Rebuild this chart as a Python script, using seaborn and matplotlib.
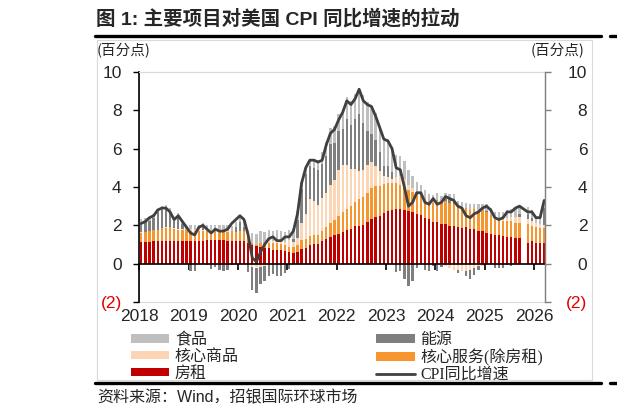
import numpy as np
import pandas as pd
import seaborn as sns
import matplotlib.pyplot as plt
from matplotlib.patches import Patch, Rectangle
from matplotlib.lines import Line2D

nan = np.nan

# monthly, Jan 2018 - Mar 2026 (Oct 2025 missing)
months = pd.date_range('2018-01-01', '2026-03-01', freq='MS')

cpi = [2.1, 2.2, 2.4, 2.5, 2.8, 2.9, 2.9, 2.7, 2.3, 2.5, 2.2, 1.9,
       1.6, 1.5, 1.9, 2.0, 1.8, 1.6, 1.8, 1.7, 1.7, 1.8, 2.1, 2.3,
       2.5, 2.3, 1.5, 0.3, 0.1, 0.6, 1.0, 1.3, 1.4, 1.2, 1.2, 1.4,
       1.4, 1.7, 2.6, 4.2, 5.0, 5.4, 5.4, 5.3, 5.4, 6.2, 6.8, 7.0,
       7.5, 7.9, 8.5, 8.3, 8.6, 9.1, 8.5, 8.3, 8.2, 7.7, 7.1, 6.5,
       6.4, 6.0, 5.0, 4.9, 4.0, 3.0, 3.2, 3.7, 3.7, 3.2, 3.1, 3.4,
       3.1, 3.2, 3.5, 3.4, 3.3, 3.0, 2.9, 2.5, 2.4, 2.6, 2.7, 2.9,
       3.0, 2.8, 2.4, 2.3, 2.4, 2.7, 2.7, 2.9, 3.0, nan, 2.7, 2.7,
       2.4, 2.4, 3.3]

shelter = [1.12, 1.13, 1.15, 1.17, 1.18, 1.19, 1.2, 1.19, 1.17, 1.16, 1.16, 1.16,
           1.18, 1.2, 1.2, 1.2, 1.21, 1.23, 1.23, 1.21, 1.23, 1.19, 1.19, 1.16,
           1.18, 1.18, 1.08, 0.95, 0.9, 0.87, 0.84, 0.8, 0.73, 0.73, 0.7, 0.66,
           0.59, 0.56, 0.63, 0.77, 0.81, 0.95, 1.02, 1.03, 1.16, 1.27, 1.38, 1.49,
           1.55, 1.65, 1.76, 1.8, 1.94, 1.98, 2.01, 2.19, 2.33, 2.44, 2.51, 2.65,
           2.75, 2.82, 2.86, 2.83, 2.8, 2.74, 2.71, 2.58, 2.55, 2.38, 2.31, 2.2,
           2.17, 2.06, 2.06, 1.99, 1.96, 1.89, 1.86, 1.89, 1.79, 1.79, 1.72, 1.68,
           1.61, 1.54, 1.47, 1.47, 1.43, 1.4, 1.37, 1.33, 1.33, nan, 1.1, 1.18,
           1.1, 1.1, 1.1]

core_services = [0.5, 0.5, 0.55, 0.6, 0.6, 0.65, 0.68, 0.7, 0.66, 0.6, 0.6, 0.58,
                 0.55, 0.5, 0.48, 0.5, 0.5, 0.48, 0.5, 0.52, 0.5, 0.48, 0.5, 0.5,
                 0.55, 0.55, 0.4, 0.15, 0.1, 0.2, 0.25, 0.3, 0.35, 0.35, 0.35, 0.3,
                 0.3, 0.3, 0.35, 0.45, 0.5, 0.5, 0.45, 0.45, 0.55, 0.65, 0.75, 0.8,
                 0.95, 1.05, 1.1, 1.2, 1.3, 1.4, 1.45, 1.5, 1.6, 1.6, 1.55, 1.5,
                 1.45, 1.4, 1.35, 1.3, 1.2, 1.1, 1.05, 1.05, 1.05, 1.0, 0.95, 0.95,
                 1.15, 1.15, 1.2, 1.2, 1.15, 1.1, 1.0, 1.0, 1.0, 1.05, 1.05, 1.1,
                 1.1, 1.0, 0.8, 0.8, 0.8, 0.85, 0.85, 0.8, 0.8, nan, 0.95, 0.8,
                 0.8, 0.75, 0.75]

core_goods = [0.05, 0.0, -0.03, -0.02, 0.0, 0.04, 0.05, 0.0, 0.03, 0.04, 0.06, 0.03,
              0.06, 0.04, 0.06, 0.06, 0.05, 0.05, 0.05, 0.06, 0.03, 0.06, 0.02, -0.02,
              -0.02, -0.04, -0.02, -0.15, -0.2, -0.18, -0.14, 0.08, 0.1, 0.12, 0.15, 0.15,
              0.35, 0.26, 0.35, 0.9, 1.3, 1.9, 1.8, 1.6, 1.7, 1.75, 1.95, 2.1,
              2.4, 2.45, 2.3, 1.95, 1.7, 1.45, 1.45, 1.45, 1.35, 1.05, 0.75, 0.42,
              0.3, 0.2, 0.3, 0.42, 0.42, 0.27, 0.17, 0.04, 0.0, -0.02, 0.0, 0.04,
              -0.06, -0.06, -0.13, -0.23, -0.32, -0.34, -0.36, -0.36, -0.32, -0.25, -0.11, -0.1,
              -0.02, -0.02, -0.02, 0.02, 0.06, 0.13, 0.23, 0.29, 0.29, nan, 0.27, 0.27,
              0.22, 0.2, 0.19]

energy = [0.43, 0.6, 0.55, 0.62, 0.91, 0.94, 0.94, 0.8, 0.37, 0.69, 0.24, -0.02,
          -0.36, -0.38, -0.03, 0.13, -0.05, -0.26, -0.15, -0.33, -0.36, -0.32, -0.05, 0.26,
          0.43, 0.2, -0.4, -1.24, -1.32, -0.88, -0.78, -0.63, -0.54, -0.64, -0.66, -0.49,
          -0.26, 0.17, 0.95, 1.8, 2.05, 1.76, 1.71, 1.8, 1.79, 1.95, 2.15, 1.9,
          2.0, 1.9, 2.4, 2.3, 2.6, 3.0, 2.45, 1.8, 1.5, 1.35, 1.0, 0.55,
          0.61, 0.36, -0.45, -0.36, -0.82, -1.17, -0.88, -0.25, -0.04, -0.32, -0.38, -0.14,
          -0.31, -0.13, 0.14, 0.17, 0.25, -0.13, 0.07, -0.27, -0.46, -0.32, -0.21, -0.03,
          0.06, -0.01, -0.21, -0.24, -0.22, -0.05, -0.1, 0.01, 0.18, nan, 0.27, 0.15,
          -0.01, 0.03, 0.85]

food = [0.23, 0.17, 0.17, 0.19, 0.16, 0.19, 0.19, 0.19, 0.19, 0.16, 0.19, 0.21,
        0.21, 0.27, 0.28, 0.24, 0.27, 0.25, 0.25, 0.23, 0.24, 0.28, 0.27, 0.24,
        0.25, 0.25, 0.26, 0.48, 0.55, 0.62, 0.57, 0.57, 0.54, 0.54, 0.51, 0.54,
        0.53, 0.5, 0.49, 0.34, 0.31, 0.34, 0.48, 0.52, 0.64, 0.74, 0.85, 0.88,
        0.91, 1.03, 1.14, 1.22, 1.31, 1.35, 1.42, 1.48, 1.46, 1.42, 1.38, 1.35,
        1.38, 1.3, 1.16, 1.05, 0.92, 0.78, 0.67, 0.59, 0.51, 0.45, 0.4, 0.37,
        0.35, 0.3, 0.3, 0.3, 0.28, 0.3, 0.3, 0.28, 0.31, 0.28, 0.32, 0.34,
        0.34, 0.35, 0.41, 0.38, 0.39, 0.41, 0.39, 0.44, 0.42, nan, 0.35, 0.42,
        0.39, 0.41, 0.41]

years = [str(y) for y in range(2018, 2027)]
yticks = [-2, 0, 2, 4, 6, 8, 10]
ytick_labels = ['(2)', '0', '2', '4', '6', '8', '10']

# stacking order, bottom to top
series = [('shelter', '房租', '#c00000'),
          ('core_services', '核心服务(除房租)', '#f7962e'),
          ('core_goods', '核心商品', '#fcd5b4'),
          ('energy', '能源', '#7f7f7f'),
          ('food', '食品', '#bfbfbf')]
line_color = '#404040'

df = pd.DataFrame({'month': months, 'x': np.arange(len(months)), 'cpi': cpi,
                   'shelter': shelter, 'core_services': core_services,
                   'core_goods': core_goods, 'energy': energy, 'food': food})

sns.set_style('white')
plt.rcParams['font.family'] = ['Liberation Sans', 'Noto Sans CJK SC']
cjk = ['Noto Sans CJK SC', 'Liberation Sans']

W, H = 617, 416
fig = plt.figure(figsize=(W / 100, H / 100), dpi=100)
ax = fig.add_axes([139 / W, 1 - 302 / H, (545 - 139) / W, (302 - 72) / H])

x = df['x'].to_numpy()
pos = np.zeros(len(df))
neg = np.zeros(len(df))
for col, label, color in series:
    v = df[col].to_numpy()
    ok = ~np.isnan(v)
    bottom = np.where(v >= 0, pos, neg)
    ax.bar(x[ok], v[ok], bottom=bottom[ok], width=0.55, color=color, linewidth=0, zorder=2)
    pos += np.where(v > 0, v, 0)
    neg += np.where(v < 0, v, 0)

sns.lineplot(data=df.dropna(subset=['cpi']), x='x', y='cpi', color=line_color,
             linewidth=2, ax=ax, zorder=3, legend=False)

ax.set_xlim(-0.55, 98.2)
ax.set_ylim(-2, 10)
ax.set_xlabel('')
ax.set_ylabel('')
ax.set_yticks(yticks, ytick_labels, fontsize=12.5)
ax.get_yticklabels()[0].set_color('#e00000')
ax.tick_params(axis='y', direction='out', length=4.5, width=1, color='black', pad=8, left=True)
ax.set_xticks(np.arange(len(years)) * 12 - 0.5)
ax.tick_params(axis='x', direction='out', length=4.5, width=1.2, color='black',
               bottom=True, labelbottom=False)
for i, yr in enumerate(years):
    ax.text(i * 12 - 0.5, -0.062, yr, transform=ax.get_xaxis_transform(),
            ha='center', va='center', fontsize=12.5)

ax.spines['bottom'].set_position(('data', 0))
ax.spines['bottom'].set_color('black')
ax.spines['bottom'].set_linewidth(1.2)
ax.spines['left'].set_color('black')
ax.spines['left'].set_linewidth(1.2)
ax.spines['top'].set_color('#d9d9d9')
ax.spines['top'].set_linewidth(0.8)
ax.spines['right'].set_visible(False)
ax.add_patch(Rectangle((0, 0), 1, 1, transform=ax.transAxes, fill=False,
                       ec='#d9d9d9', lw=0.8, zorder=0.5, clip_on=False))

ax2 = ax.twinx()
ax2.set_ylim(-2, 10)
ax2.set_yticks(yticks, ytick_labels, fontsize=12.5)
ax2.get_yticklabels()[0].set_color('#e00000')
for lab in ax2.get_yticklabels():
    lab.set_horizontalalignment('right')
ax2.tick_params(axis='y', direction='out', length=4.5, width=1, color='#808080', pad=26, right=True)
for s in ['top', 'bottom', 'left']:
    ax2.spines[s].set_visible(False)
ax2.spines['right'].set_color('#808080')
ax2.spines['right'].set_linewidth(1)
ax2.grid(False)

# unit labels
fig.text(97 / W, 1 - 51 / H, '(百分点)', fontsize=10.5, family=cjk, va='center', ha='left')
fig.text(584 / W, 1 - 51 / H, '(百分点)', fontsize=10.5, family=cjk, va='center', ha='right')

# title and rules
fig.text(96 / W, 1 - 19 / H, '图 1: 主要项目对美国 CPI 同比增速的拉动', fontsize=14,
         fontweight='bold', family=['Liberation Sans', 'Noto Sans CJK SC'], va='center', ha='left')
fig.add_artist(Line2D([95 / W, 601 / W], [1 - 36 / H] * 2, color='black', lw=2.4))
fig.add_artist(Line2D([610 / W, 1], [1 - 36 / H] * 2, color='black', lw=2.4))
fig.add_artist(Rectangle((97 / W, 1 - 380 / H), (592 - 97) / W, (380 - 40) / H,
                         transform=fig.transFigure, fill=False, ec='#d9d9d9', lw=0.8))
fig.add_artist(Line2D([95 / W, 601 / W], [1 - 383 / H] * 2, color='black', lw=2.4))
fig.add_artist(Line2D([610 / W, 1], [1 - 383 / H] * 2, color='black', lw=2.4))

# legend
colors = {col: color for col, _, color in series}
names = {col: label for col, label, _ in series}
order = ['food', 'core_goods', 'shelter', 'energy', 'core_services']
handles = [Patch(facecolor=colors[c], edgecolor='none') for c in order]
labels = [names[c] for c in order]
handles.append(Line2D([], [], color=line_color, lw=2))
labels.append('CPI同比增速')
fig.legend(handles, labels, ncol=2, loc='upper left', bbox_to_anchor=(131 / W, 1 - 332 / H),
           frameon=False, prop={'family': ['Liberation Serif', 'Noto Sans CJK SC'], 'size': 11.5},
           handlelength=2.4, handleheight=0.45, handletextpad=0.35, columnspacing=8.6,
           labelspacing=0.05, borderpad=0, borderaxespad=0)

fig.text(97 / W, 1 - 398 / H, '资料来源：Wind，招银国际环球市场', fontsize=11.5,
         family=['Liberation Sans', 'Noto Sans CJK SC'], va='center', ha='left')

fig.savefig('out.png', dpi=100)
